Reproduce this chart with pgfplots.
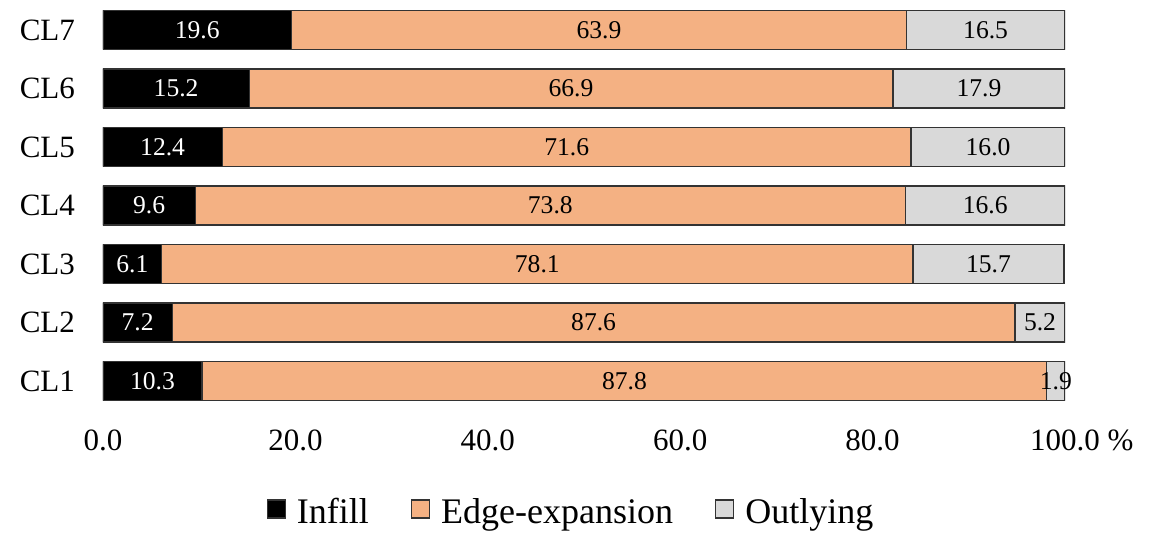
\documentclass[border=0pt]{standalone}
\usepackage{pgfplots}
\pgfplotsset{compat=1.18}
\usepackage{pgfplotstable}
\usepackage{fontspec}
\setmainfont{Liberation Serif}

\definecolor{edgeorange}{HTML}{F4B183}
\definecolor{outgray}{HTML}{D9D9D9}

% share of new urban land by growth type (%)
\pgfplotstableread{
cl infill edge outlying
1  10.3  87.8  1.9
2  7.2   87.6  5.2
3  6.1   78.1  15.7
4  9.6   73.8  16.6
5  12.4  71.6  16.0
6  15.2  66.9  17.9
7  19.6  63.9  16.5
}\shares

\begin{document}
\begin{tikzpicture}
\begin{axis}[
    name=ax,
    x=4.81pt, y=29.25pt,
    xmin=0, xmax=100, ymin=0.28, ymax=7.51,
    xbar stacked, bar width=19.5pt,
    axis line style={draw=none},
    major tick length=0pt,
    xtick={0,20,...,100},
    xticklabels={0.0,20.0,40.0,60.0,80.0,100.0\rlap{\ \%}},
    ytick={1,2,3,4,5,6,7},
    yticklabels={CL1,CL2,CL3,CL4,CL5,CL6,CL7},
    tick label style={font=\fontsize{15.5}{18}\selectfont},
    yticklabel style={xshift=-10.5pt},
    /pgf/number format/.cd, fixed, fixed zerofill, precision=1, assume math mode=true,
    /pgfplots/.cd,
    nodes near coords,
    point meta=explicit,
    every node near coord/.append style={font=\fontsize{12.8}{15}\selectfont, anchor=center},
    legend columns=3,
    legend style={draw=none, fill=none, at={(0.4854,0)}, anchor=center, yshift=-44.5pt,
        font=\fontsize{18}{21}\selectfont, inner sep=0pt,
        nodes={inner sep=0pt},
        /tikz/every even column/.append style={column sep=21pt}},
    legend image code/.code={\draw[#1, draw=black!80, line width=0.6pt] (0pt,-3pt) rectangle (9pt,6pt);
        \path (14.5pt,0pt);},
]
\addplot[fill=black, draw=black!80, line width=0.7pt,
    every node near coord/.append style={white}]
    table[x=infill, y=cl, meta=infill] {\shares};
\addplot[fill=edgeorange, draw=black!80, line width=0.7pt,
    every node near coord/.append style={black}]
    table[x=edge, y=cl, meta=edge] {\shares};
\addplot[fill=outgray, draw=black!80, line width=0.7pt,
    every node near coord/.append style={black}]
    table[x=outlying, y=cl, meta=outlying] {\shares};
\legend{Infill, Edge-expansion, Outlying}
\end{axis}
\pgfresetboundingbox
\path[use as bounding box] ([xshift=-51.5pt,yshift=-54.5pt]ax.south west) rectangle ([xshift=526pt,yshift=211.5pt]ax.south west);
\end{tikzpicture}
\end{document}
